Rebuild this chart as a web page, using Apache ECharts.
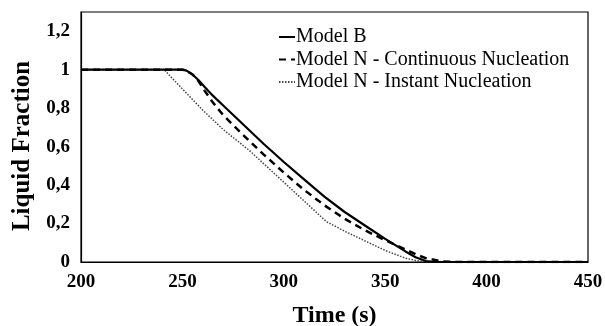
<!DOCTYPE html>
<html>
<head>
<meta charset="utf-8">
<script src="https://cdn.jsdelivr.net/npm/echarts@6/dist/echarts.min.js"></script>
<style>
  html, body { margin: 0; padding: 0; background: #fff; }
  #chart { width: 605px; height: 326px; }
</style>
</head>
<body>
<div id="chart"></div>
<script>
// Model B
const timeB = [200, 250, 252, 255, 258, 261, 265, 270, 280, 290, 300, 310, 320, 330, 340, 350, 360, 365, 370, 375, 450];
const fracB = [1, 1, 0.995, 0.975, 0.945, 0.91, 0.865, 0.815, 0.715, 0.615, 0.52, 0.43, 0.34, 0.26, 0.19, 0.12, 0.055, 0.025, 0.005, 0, 0];
// Model N - continuous nucleation
const timeC = [200, 250, 252, 255, 258, 261, 265, 270, 280, 290, 300, 310, 320, 330, 340, 350, 360, 365, 370, 378, 385, 450];
const fracC = [1, 1, 0.995, 0.975, 0.94, 0.89, 0.83, 0.765, 0.66, 0.56, 0.465, 0.375, 0.295, 0.225, 0.165, 0.113, 0.065, 0.04, 0.02, 0.003, 0, 0];
// Model N - instant nucleation
const timeI = [200, 241, 245, 250, 255, 260, 270, 283, 300, 321, 330, 340, 350, 360, 365, 370, 450];
const fracI = [1, 1, 0.955, 0.9, 0.845, 0.79, 0.69, 0.58, 0.415, 0.21, 0.16, 0.11, 0.06, 0.02, 0.008, 0, 0];

const seriesNames = ["Model B", "Model N - Continuous Nucleation", "Model N - Instant Nucleation"];
const xTicks = [200, 450, 50]; // min, max, interval
const yTicks = [0, 1.3, 0.2];

const pairs = (ts, vs) => ts.map((t, i) => [t, vs[i]]);
const serif = "'Liberation Serif', 'DejaVu Serif', serif";

var myChart = echarts.init(document.getElementById("chart"));
myChart.setOption({
  animation: false,
  grid: {
    left: 81, right: 17, top: 12, bottom: 64,
    outerBoundsMode: "none",
    show: true, borderColor: "#000", borderWidth: 1.2,
  },
  legend: {
    orient: "vertical",
    left: 273, top: 22,
    itemWidth: 16, itemHeight: 14, itemGap: 2.5,
    itemStyle: { opacity: 0 },
    textStyle: { fontFamily: serif, fontSize: 20, lineHeight: 20, color: "#000", padding: [0, 0, 0, -4] },
    data: seriesNames,
  },
  xAxis: {
    type: "value",
    min: xTicks[0], max: xTicks[1], interval: xTicks[2],
    splitLine: { show: false },
    axisTick: { show: false },
    axisLine: { lineStyle: { color: "#000", width: 1.2 } },
    axisLabel: { margin: 11, fontFamily: serif, fontWeight: "bold", fontSize: 19, color: "#000" },
    name: "Time (s)",
    nameLocation: "middle",
    nameGap: 42,
    nameTextStyle: { fontFamily: serif, fontWeight: "bold", fontSize: 24, color: "#000" },
  },
  yAxis: {
    type: "value",
    min: yTicks[0], max: yTicks[1], interval: yTicks[2],
    splitLine: { show: false },
    axisTick: { show: false },
    axisLine: { show: true, lineStyle: { color: "#000", width: 1.2 } },
    axisLabel: {
      margin: 11, fontFamily: serif, fontWeight: "bold", fontSize: 19, color: "#000",
      showMaxLabel: false,
      formatter: (v) => String(+v.toFixed(1)).replace(".", ","),
    },
    name: "Liquid Fraction",
    nameLocation: "middle",
    nameGap: 46,
    nameTextStyle: { fontFamily: serif, fontWeight: "bold", fontSize: 25, color: "#000", padding: [0, 18, 0, 0] },
  },
  series: [
    {
      name: seriesNames[0], type: "line", symbol: "none",
      data: pairs(timeB, fracB),
      lineStyle: { color: "#000", width: 2.2 },
      itemStyle: { color: "#000" },
      z: 3,
    },
    {
      name: seriesNames[1], type: "line", symbol: "none",
      data: pairs(timeC, fracC),
      lineStyle: { color: "#000", width: 2.5, type: [7, 5] },
      itemStyle: { color: "#000" },
      z: 2,
    },
    {
      name: seriesNames[2], type: "line", symbol: "none",
      data: pairs(timeI, fracI),
      lineStyle: { color: "#444", width: 1.5, type: [1.5, 1.5] },
      itemStyle: { color: "#444" },
      z: 1,
    },
  ],
});
</script>
</body>
</html>
